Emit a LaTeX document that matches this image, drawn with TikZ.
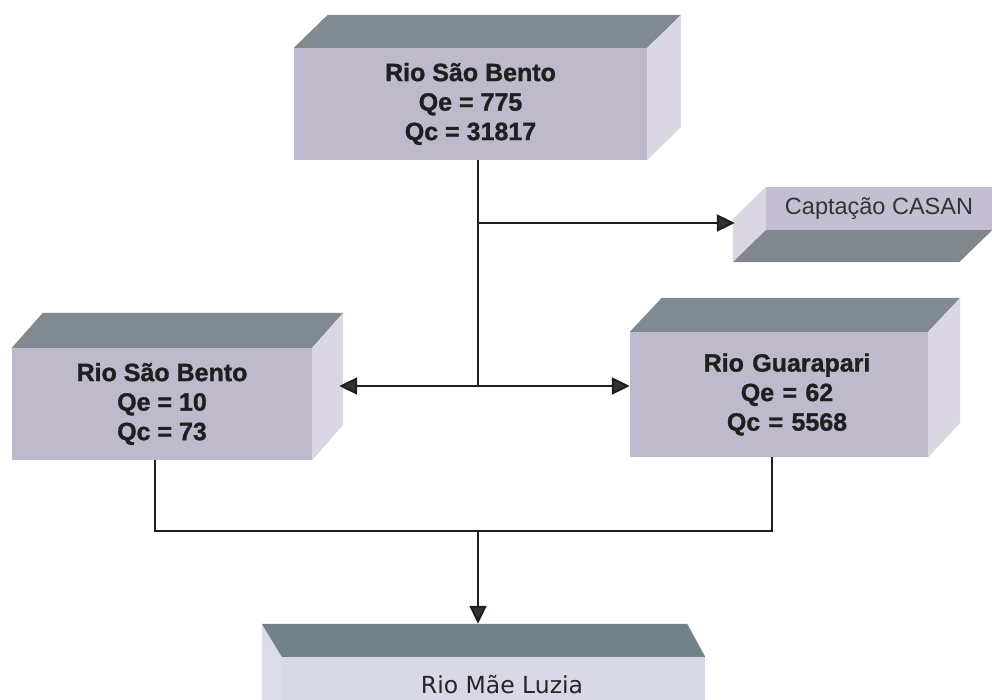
\documentclass[tikz,border=0pt]{standalone}
\usepackage{fontspec}
\setmainfont{DejaVu Sans}
\newfontfamily\arialfont{Liberation Sans}
\newfontfamily\heavyfont{Liberation Sans}[BoldFeatures={FakeBold=1.2}]
\usetikzlibrary{arrows.meta,calc}
\definecolor{frontc}{RGB}{190,186,204}
\definecolor{topc}{RGB}{128,138,146}
\definecolor{sidec}{RGB}{218,214,228}
\definecolor{capfront}{RGB}{196,190,210}
\definecolor{capbottom}{RGB}{128,136,142}
\definecolor{bottop}{RGB}{112,132,136}
\definecolor{botfront}{RGB}{216,216,230}
\definecolor{linec}{RGB}{34,30,32}
\definecolor{tipc}{RGB}{58,47,53}
\begin{document}
\begin{tikzpicture}[x=1pt,y=-1pt,
  conn/.style={draw=linec, line width=2.1pt},
  arr/.style={draw=linec, line width=2.1pt, -{Triangle[length=18pt,width=17pt,fill=tipc]}},
  frontbox/.style={rectangle, fill=frontc, inner sep=0pt, align=center,
    font=\heavyfont\bfseries\fontsize{25}{29.5}\selectfont, text=black!88}]
\useasboundingbox (0,0) rectangle (992,700);
\fill[white] (0,0) rectangle (992,700);
\clip (0,0) rectangle (992,700);

% top box
\node[frontbox, minimum width=353pt, minimum height=112pt] (b1) at (470.5,104)
  {Rio São Bento\\Qe = 775\\Qc = 31817};
\fill[topc] (b1.north west) -- ++(34,-33) -- ($(b1.north east)+(34,-33)$) -- (b1.north east) -- cycle;
\fill[sidec] (b1.north east) -- ++(34,-33) -- ++(0,112) -- (b1.south east) -- cycle;

% Captacao box
\node[rectangle, fill=capfront, inner sep=0pt, minimum width=226pt, minimum height=43pt,
  font=\arialfont\fontsize{23.5}{27}\selectfont, text=black!80] (cap) at (879,208.5) {Captação CASAN};
\fill[sidec] (cap.north west) -- (cap.south west) -- ++(-33,32) -- ++(0,-43) -- cycle;
\fill[capbottom] (cap.south west) -- (cap.south east) -- ++(-33,32) -- ($(cap.south west)+(-33,32)$) -- cycle;

% left box
\node[frontbox, minimum width=300pt, minimum height=112pt] (bL) at (162,404)
  {Rio São Bento\\Qe = 10\\Qc = 73};
\fill[topc] (bL.north west) -- ++(31,-35) -- ($(bL.north east)+(31,-35)$) -- (bL.north east) -- cycle;
\fill[sidec] (bL.north east) -- ++(31,-35) -- ++(0,112) -- (bL.south east) -- cycle;

% right box
\node[frontbox, minimum width=298pt, minimum height=125pt, text width=298pt] (bR) at (779,394.5)
  {\hspace*{16pt}Rio Guarapari\\\hspace*{16pt}Qe = 62\\\hspace*{16pt}Qc = 5568};
\fill[topc] (bR.north west) -- ++(32,-34) -- ($(bR.north east)+(32,-34)$) -- (bR.north east) -- cycle;
\fill[sidec] (bR.north east) -- ++(32,-34) -- ++(0,125) -- (bR.south east) -- cycle;

% bottom box
\node[rectangle, fill=botfront, inner sep=0pt, minimum width=423pt, minimum height=63pt] (bot) at (493.5,688.5) {};
\fill[botfront!90!white] (bot.north west) -- ++(-20,-33) -- ++(0,90) -- ++(20,0) -- cycle;
\fill[bottop] (bot.north west) -- ++(-20,-33) -- ($(bot.north east)+(-18,-33)$) -- (bot.north east) -- cycle;
\node[font=\fontsize{23.5}{28}\selectfont, text=black!85, anchor=base] (botlbl) at (502,693) {Rio Mãe Luzia};

% connectors
\coordinate (j1) at (478,223);
\coordinate (j2) at (478,386);
\coordinate (j3) at (478,531);
\draw[conn] (b1.south -| j1) -- (j2);
\draw[arr] (j1) -- ([xshift=-31pt]cap.west |- j1);
\draw[arr] (j2) -- ([xshift=27pt]bL.east |- j2);
\draw[arr] (j2) -- (bR.west |- j2);
\draw[conn] ([xshift=-7pt]bL.south) |- (j3) -| ([xshift=-7pt]bR.south);
\draw[arr] (j3) -- ([yshift=33pt]bot.north -| j3);
\end{tikzpicture}
\end{document}
